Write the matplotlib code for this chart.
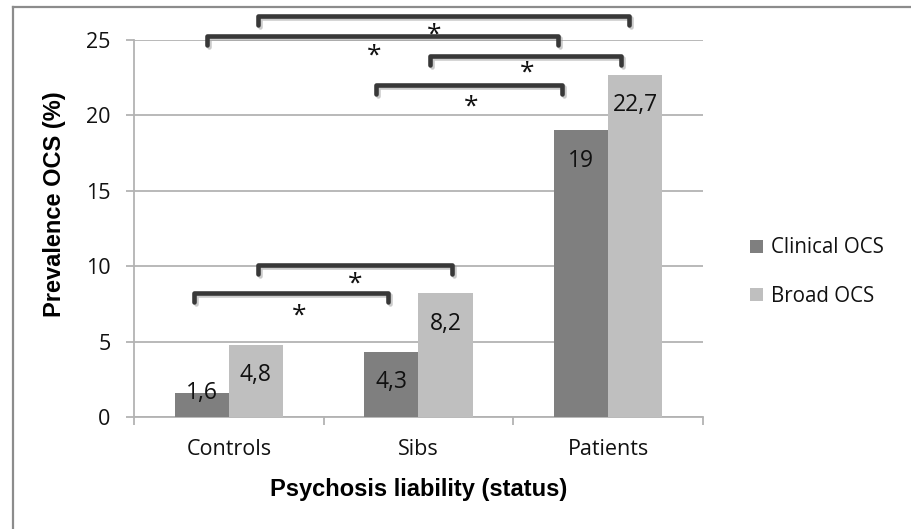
import matplotlib
matplotlib.use("Agg")
import matplotlib.pyplot as plt
import matplotlib.patheffects as pe
from matplotlib.lines import Line2D

# values
groups = ["Controls", "Sibs", "Patients"]
series_names = ["Clinical OCS", "Broad OCS"]
clinical = [1.6, 4.3, 19.0]
broad = [4.8, 8.2, 22.7]
clinical_txt = ["1,6", "4,3", "19"]
broad_txt = ["4,8", "8,2", "22,7"]
colors = ["#7f7f7f", "#bfbfbf"]

# significance brackets: (x start, x end, height) in axis data units
brackets = [
    (0.154, 2.109, 26.6),
    (-0.115, 1.735, 25.27),
    (1.060, 2.067, 23.94),
    (0.776, 1.756, 22.02),
    (0.154, 1.176, 10.08),
    (-0.184, 0.839, 8.22),
]
# asterisk positions (x, y)
stars = [
    (1.081, 25.66),
    (0.765, 24.27),
    (1.572, 23.14),
    (1.276, 20.89),
    (0.665, 9.15),
    (0.370, 7.03),
]

TICK_FONT = "Open Sans"
LABEL_FONT = "Liberation Sans"
GRID = "#b3b3b3"
INK = "#111111"

fig = plt.figure(figsize=(9.12, 5.29), dpi=100)
ax = fig.add_axes([134 / 912, 1 - 417 / 529, (703 - 134) / 912, (417 - 40) / 529])

# outer frame (only left and top edges are inside the picture)
fig.add_artist(Line2D([13 / 912, 13 / 912], [0, 1 - 7 / 529], transform=fig.transFigure,
                      color="#8c8c8c", lw=1.6))
fig.add_artist(Line2D([13 / 912, 1], [1 - 7 / 529, 1 - 7 / 529], transform=fig.transFigure,
                      color="#8c8c8c", lw=1.6))

w = 0.285
xs = list(range(len(groups)))
ax.bar([x - w / 2 for x in xs], clinical, width=w, color=colors[0], label=series_names[0], zorder=3)
ax.bar([x + w / 2 for x in xs], broad, width=w, color=colors[1], label=series_names[1], zorder=3)

for x, v, t in zip(xs, clinical, clinical_txt):
    y = v - 2.0 if v > 3 else v
    ax.text(x - w / 2, y, t, ha="center", va="center", fontsize=16.5, family=TICK_FONT,
            color=INK, zorder=4)
for x, v, t in zip(xs, broad, broad_txt):
    y = v - 2.0 if v > 3 else v
    ax.text(x + w / 2, y, t, ha="center", va="center", fontsize=16.5, family=TICK_FONT,
            color=INK, zorder=4)

ax.set_xlim(-0.5, 2.5)
ax.set_ylim(0, 25)
ax.set_yticks([0, 5, 10, 15, 20, 25])
ax.yaxis.grid(True, color=GRID, lw=1.3, zorder=0)
ax.set_axisbelow(True)

ax.set_xticks([-0.5, 0.5, 1.5, 2.5])
ax.set_xticklabels([])
ax.set_xticks(xs, minor=True)
ax.set_xticklabels(groups, minor=True)
ax.tick_params(axis="x", which="major", length=6, width=1.3, color=GRID, direction="out")
ax.tick_params(axis="x", which="minor", length=0, pad=16)
ax.tick_params(axis="y", length=6, width=1.3, color=GRID, direction="out", pad=11)
for lab in ax.get_xticklabels(minor=True) + ax.get_yticklabels():
    lab.set_fontfamily(TICK_FONT)
    lab.set_fontsize(15.5)
    lab.set_color(INK)

for s in ["top", "right"]:
    ax.spines[s].set_visible(False)
for s in ["left", "bottom"]:
    ax.spines[s].set_color(GRID)
    ax.spines[s].set_linewidth(1.3)

ax.set_ylabel("Prevalence OCS (%)", family=LABEL_FONT, fontweight="bold", fontsize=17)
ax.set_xlabel("Psychosis liability (status)", family=LABEL_FONT, fontweight="bold",
              fontsize=17, labelpad=13)
ax.yaxis.set_label_coords(-0.12, 0.565)

drop = 0.6
shadow = [pe.SimpleLineShadow(offset=(1.2, -1.5), shadow_color="#999999", alpha=0.5),
          pe.Normal()]
for x0, x1, y in brackets:
    ax.plot([x0, x0, x1, x1], [y - drop, y, y, y - drop], color="#383838", lw=3.3,
            solid_joinstyle="round", solid_capstyle="round", clip_on=False, zorder=5,
            path_effects=shadow)
for x, y in stars:
    ax.annotate("*", (x, y), xytext=(0, -8.5), textcoords="offset points", ha="center",
                va="baseline", fontsize=19, family=TICK_FONT, color=INK,
                annotation_clip=False, zorder=6)

fig.legend(loc="center left", bbox_to_anchor=(750 / 912, 1 - 272 / 529), frameon=False,
           prop={"family": TICK_FONT, "size": 14.8}, handlelength=0.62, handleheight=0.62,
           handletextpad=0.4, labelspacing=1.32, borderpad=0, borderaxespad=0)
for t in fig.legends[0].get_texts():
    t.set_color(INK)

fig.savefig("out.png", dpi=100, facecolor="white")
